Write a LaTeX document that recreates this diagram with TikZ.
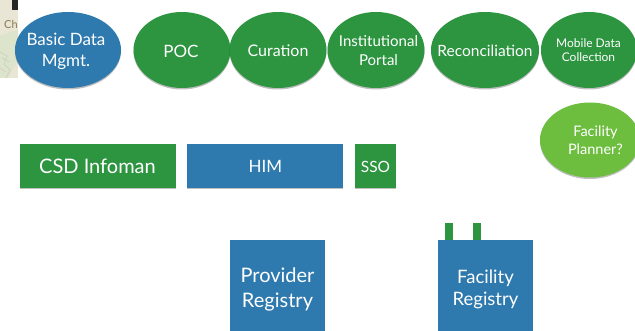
\documentclass[tikz,border=0pt]{standalone}
\usepackage{fontspec}
\setmainfont{Lato}
\usetikzlibrary{shapes.geometric,shadows}
\definecolor{bluef}{HTML}{2E79AE}
\definecolor{greenf}{HTML}{2D9440}
\definecolor{limef}{HTML}{6DBE3F}
\definecolor{mapf}{HTML}{E9E6D6}
\definecolor{mapg}{HTML}{DCE5CC}
\definecolor{mapl}{HTML}{C9C9BC}
\definecolor{chtext}{HTML}{8A7A50}
\tikzset{
  x=1pt,y=-1pt,
  softshadow/.style={drop shadow={shadow xshift=0pt,shadow yshift=-1.5pt,fill=black,opacity=.25}},
  lab/.style={text=white,align=center,inner sep=0pt,font=\fontsize{#1}{#1}\selectfont},
  oval/.style={ellipse,inner sep=0pt,draw=none,softshadow,minimum width=#1},
  box/.style={rectangle,inner sep=0pt,draw=none,softshadow},
}
\begin{document}
\begin{tikzpicture}
\useasboundingbox (0,0) rectangle (635,331);
\fill[white] (0,0) rectangle (635,331);
% map fragment
\fill[mapf] (0,0) rectangle (18,78);
\fill[mapg] (0,36) -- (10,32) -- (18,30) -- (18,60) -- (8,78) -- (0,78) -- cycle;
\draw[mapl,line width=.5pt] (0,52) -- (7,56) -- (4,64) -- (10,70) -- (6,78) (2,58) -- (9,62) (0,68) -- (6,72);
\fill[black!85] (12,0) rectangle (18,10);
\node[text=chtext,inner sep=0pt,anchor=west,font=\fontsize{11}{11}\selectfont] (ch) at (4,24) {Ch};
% top row
\node[oval=106pt,minimum height=76pt,fill=bluef] (basic) at (68,50) {};
\node[lab=17] at (66,51.5) {Basic Data\\[4pt]Mgmt.};
\node[oval=97pt,minimum height=76pt,fill=greenf] (poc) at (182,50) {};
\node[lab=17] at (181,51) {POC};
\node[oval=97pt,minimum height=76pt,fill=greenf] (cur) at (278,50) {};
\node[lab=16] at (278,51) {Curation};
\node[oval=97pt,minimum height=76pt,fill=greenf] (portal) at (376,50) {};
\node[lab=15] at (378.5,51) {Institutional\\[4pt]Portal};
\node[oval=108pt,minimum height=76pt,fill=greenf] (rec) at (485,50) {};
\node[lab=15.5] at (485,51) {Reconciliation};
\node[oval=96pt,minimum height=76pt,fill=greenf] (mob) at (589,50) {};
\node[lab=12] at (588.5,50) {Mobile Data\\[2.5pt]Collection};
\node[oval=100pt,minimum height=75pt,fill=limef] (fac) at (590,140) {};
\node[lab=14.5] at (595.5,140) {Facility\\[4pt]Planner?};
% middle row
\node[box,fill=greenf,minimum width=156pt,minimum height=44pt] (csd) at (97.5,166) {};
\node[lab=20] at (csd) {CSD Infoman};
\node[box,fill=bluef,minimum width=156pt,minimum height=44pt] (him) at (265,166) {};
\node[lab=17] at (265.5,166) {HIM};
\node[box,fill=greenf,minimum width=41pt,minimum height=44pt] (sso) at (375.5,166) {};
\node[lab=15.5] at (375.5,167) {SSO};
% bottom row
\node[box,fill=greenf,minimum width=8pt,minimum height=18pt] (tab1) at (449,232) {};
\node[box,fill=greenf,minimum width=8pt,minimum height=18pt] (tab2) at (477,232) {};
\node[box,fill=bluef,minimum width=95pt,minimum height=92pt] (prov) at (277.5,286) {};
\node[lab=20] at (277.5,289) {Provider\\[5pt]Registry};
\node[box,fill=bluef,minimum width=95pt,minimum height=92pt] (facr) at (485,286) {};
\node[lab=18.5] at (485.5,289.5) {Facility\\[4pt]Registry};
\end{tikzpicture}
\end{document}
